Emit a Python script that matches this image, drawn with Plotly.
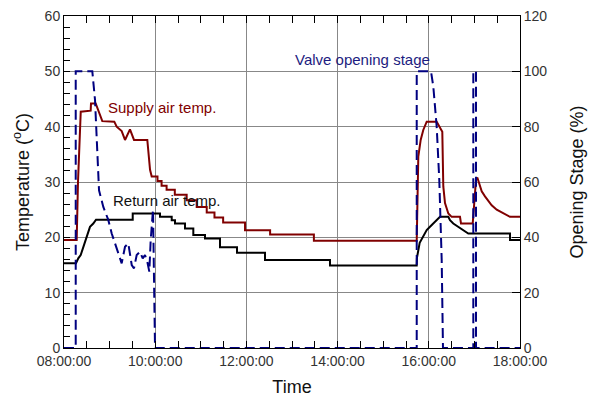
import pandas as pd
import plotly.graph_objects as go

# ---- data (time in decimal hours of the day) ----
supply_hours = [8.0, 8.278, 8.307, 8.367, 8.585, 8.592, 8.695, 8.752, 8.84, 9.103, 9.155, 9.265,
                9.338, 9.447, 9.535, 9.827, 9.887, 9.923, 10.05, 10.05, 10.14, 10.14, 10.25, 10.25,
                10.43, 10.43, 10.69, 10.69, 10.91, 10.91, 11.13, 11.13, 11.30, 11.30, 11.49, 11.49,
                11.97, 11.97, 12.52, 12.52, 13.48, 13.48, 15.735,
                15.77, 15.822, 15.879, 15.954, 16.173, 16.23, 16.296, 16.318, 16.355, 16.428, 16.502,
                16.684, 16.706, 16.963, 17.035, 17.064, 17.16, 17.232, 17.305, 17.379, 17.489,
                17.561, 17.781, 18.0]
supply_temp = [19.5, 19.5, 30.0, 42.7, 42.9, 44.2, 44.2, 43.0, 41.0, 40.9, 40.0, 39.2,
               37.6, 39.5, 37.6, 37.6, 32.2, 31.0, 31.0, 30.2, 30.2, 29.3, 29.3, 28.6,
               28.6, 27.7, 27.7, 26.7, 26.7, 25.5, 25.5, 24.5, 24.5, 23.6, 23.6, 22.7,
               22.7, 21.3, 21.3, 20.5, 20.5, 19.4, 19.4,
               34.6, 37.6, 39.4, 40.9, 40.9, 40.0, 39.1, 29.2, 26.2, 24.3, 23.7,
               23.7, 22.5, 22.5, 30.4, 30.8, 28.3, 27.4, 26.7, 25.8, 25.0,
               24.7, 23.7, 23.7]

return_hours = [8.0, 8.263, 8.313, 8.366, 8.438, 8.511, 8.57, 8.642, 8.702, 9.507, 9.507, 10.105,
                10.105, 10.362, 10.362, 10.434, 10.434, 10.654, 10.654, 10.836, 10.836, 11.092,
                11.092, 11.421, 11.421, 11.794, 11.794, 12.408, 12.408, 13.833, 13.833, 15.735,
                15.74, 15.80, 15.879, 15.954, 16.026, 16.10, 16.173, 16.246, 16.428, 16.465, 16.537,
                16.647, 16.757, 16.866, 17.781, 17.781, 18.0]
return_temp = [15.3, 15.3, 16.2, 16.8, 18.6, 20.4, 21.9, 22.5, 23.2, 23.2, 24.3, 24.3,
               23.7, 23.7, 23.1, 23.1, 22.5, 22.5, 21.6, 21.6, 20.4, 20.4,
               19.8, 19.8, 18.2, 18.2, 17.2, 17.2, 15.9, 15.9, 14.9, 14.9,
               16.3, 19.0, 20.1, 21.3, 21.9, 22.5, 23.1, 23.7, 23.7, 23.1, 22.5,
               21.9, 21.3, 20.7, 20.7, 19.5, 19.5]

valve_hours = [8.0, 8.257, 8.257, 8.621, 8.68, 8.717, 8.752, 8.768, 8.862, 8.971, 9.046, 9.118,
               9.191, 9.265, 9.338, 9.41, 9.485, 9.535, 9.594, 9.667, 9.726, 9.776, 9.827,
               9.871, 9.901, 9.93, 9.952, 9.996, 15.735, 15.735, 16.048, 16.099, 16.173,
               16.23, 16.261, 16.283, 16.311, 16.976, 16.976, 17.035, 17.035, 18.0]
valve_pct = [0, 0, 100, 100, 89.7, 74.0, 60.7, 57.0, 51.0, 46.3, 41.4, 37.8,
             34.8, 30.6, 36.6, 37.8, 30.0, 28.8, 33.6, 34.8, 32.4, 33.6, 31.2,
             27.6, 39.0, 47.5, 50.0, 0, 0, 100, 100, 94.5, 80.0,
             60.7, 46.0, 31.8, 0, 0, 100, 100, 0, 0]

x_ticks = ["08:00:00", "10:00:00", "12:00:00", "14:00:00", "16:00:00", "18:00:00"]

day = pd.Timestamp("2000-01-01")
def to_time(hours):
    return [day + pd.to_timedelta(h, unit="h") for h in hours]

FONT = "Liberation Sans, Arial, sans-serif"
RED = "#800000"
NAVY = "#000080"

fig = go.Figure()
fig.add_trace(go.Scatter(x=to_time(supply_hours), y=supply_temp, mode="lines",
                         line=dict(color=RED, width=2), name="Supply air temp."))
fig.add_trace(go.Scatter(x=to_time(return_hours), y=return_temp, mode="lines",
                         line=dict(color="#000000", width=2), name="Return air temp."))
fig.add_trace(go.Scatter(x=to_time(valve_hours), y=valve_pct, mode="lines", yaxis="y2",
                         line=dict(color=NAVY, width=2, dash="10px,5px"),
                         name="Valve opening stage"))

tickvals = [day + pd.Timedelta(hours=8 + 2 * i) for i in range(6)]

fig.update_layout(
    width=590, height=405,
    margin=dict(l=64, r=70, t=16, b=57, autoexpand=False),
    paper_bgcolor="white", plot_bgcolor="white",
    showlegend=False,
    font=dict(family=FONT, size=14, color="#333333"),
    xaxis=dict(
        range=[day + pd.Timedelta(hours=8), day + pd.Timedelta(hours=18)],
        tickvals=tickvals, ticktext=x_ticks, automargin=False,
        showgrid=True, gridcolor="#888888", gridwidth=1,
        showline=True, linecolor="#000000", linewidth=1, mirror="allticks",
        ticks="inside", ticklen=7, tickcolor="#000000",
        minor=dict(dtick=30 * 60 * 1000, tick0=day + pd.Timedelta(hours=8),
                   ticks="inside", ticklen=7, tickcolor="#000000", showgrid=False),
        title=dict(text="Time", font=dict(size=18, color="#111111"), standoff=12),
        zeroline=False,
    ),
    yaxis=dict(
        range=[0, 60], dtick=10, automargin=False,
        showgrid=True, gridcolor="#888888", gridwidth=1,
        showline=True, linecolor="#000000", linewidth=1,
        ticks="inside", ticklen=6, tickcolor="#000000",
        minor=dict(dtick=2, ticks="inside", ticklen=6, tickcolor="#000000", showgrid=False),
        title=dict(text="Temperature (<sup>o</sup>C)", font=dict(size=18, color="#111111"),
                   standoff=10),
        zeroline=False,
    ),
    yaxis2=dict(
        range=[0, 120], dtick=20, overlaying="y", side="right", automargin=False,
        showgrid=False,
        showline=True, linecolor="#000000", linewidth=1,
        ticks="inside", ticklen=8, tickcolor="#000000",
        title=dict(text="Opening Stage (%)", font=dict(size=18, color="#111111"), standoff=24),
        zeroline=False,
    ),
)

fig.add_annotation(x=day + pd.Timedelta(hours=10.15), y=43.4, text="Supply air temp.",
                   showarrow=False, font=dict(size=15, color=RED, family=FONT))
fig.add_annotation(x=day + pd.Timedelta(hours=10.26), y=26.6, text="Return air temp.",
                   showarrow=False, font=dict(size=15, color="#111111", family=FONT))
fig.add_annotation(x=day + pd.Timedelta(hours=14.535), y=52.1, text="Valve opening stage",
                   showarrow=False, font=dict(size=15, color="#1c1c80", family=FONT))

fig.write_html("out.html")
